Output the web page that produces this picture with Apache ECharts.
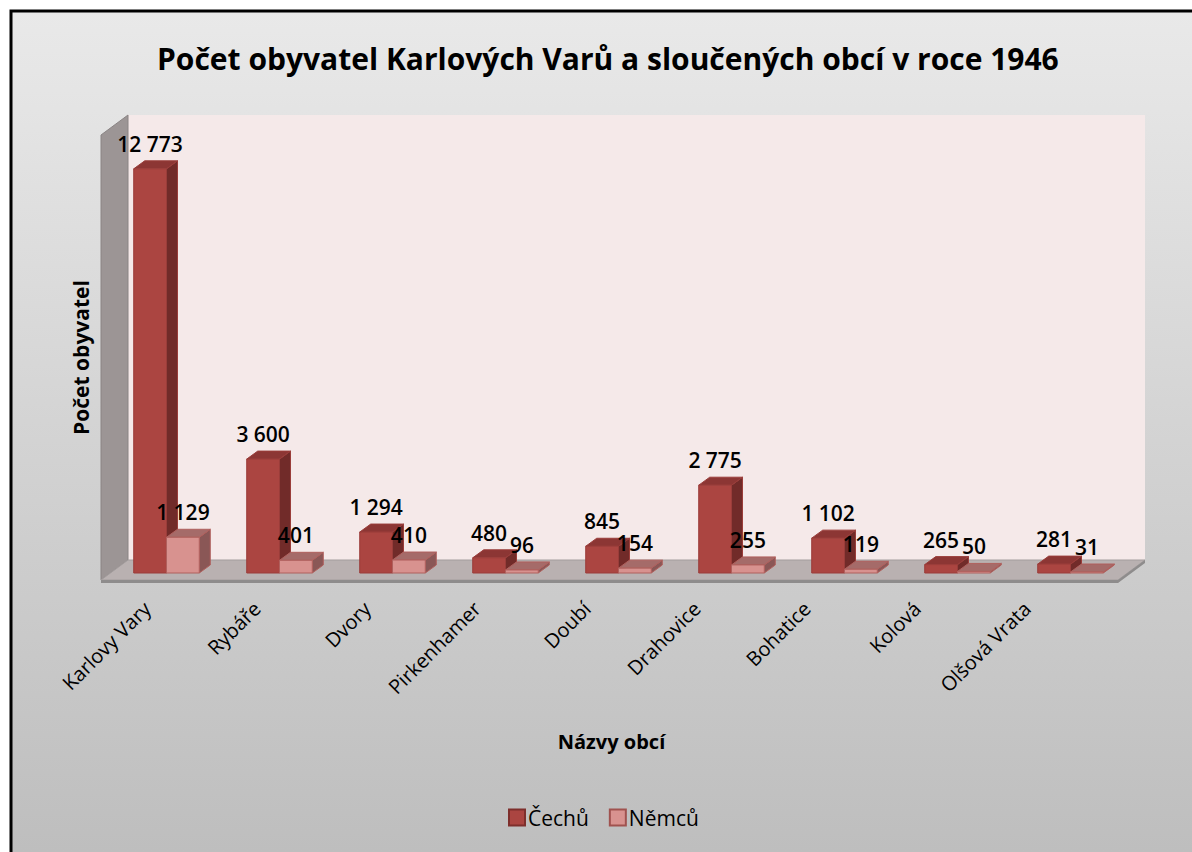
<!DOCTYPE html>
<html>
<head>
<meta charset="utf-8">
<script src="https://cdn.jsdelivr.net/npm/echarts@6/dist/echarts.min.js"></script>
<style>
  html, body { margin: 0; padding: 0; background: #fff; }
  #main { width: 1192px; height: 852px; }
</style>
</head>
<body>
<div id="main"></div>
<script>
// data
const obce = ['Karlovy Vary', 'Rybáře', 'Dvory', 'Pirkenhamer', 'Doubí', 'Drahovice', 'Bohatice', 'Kolová', 'Olšová Vrata'];
const cechu = [12773, 3600, 1294, 480, 845, 2775, 1102, 265, 281];
const nemcu = [1129, 401, 410, 96, 154, 255, 119, 50, 31];
const yMax = 14000;

const FONT = "'Open Sans', 'Noto Sans', sans-serif";
// hloubka 3D
const FRONT = [-9, 7], BACK = [18, -13], BAR_D = [11, -8];

function fmt(v) {
  return String(v).replace(/\B(?=(\d{3})+(?!\d))/g, ' ');
}

// kvádr pro jeden sloupec, side = -1 vlevo (Čechů), 1 vpravo (Němců)
function boxRenderer(side, colors) {
  return function (params, api) {
    const i = api.value(0);
    const v = api.value(1);
    const top = api.coord([i, v]);
    const base = api.coord([i, 0]);
    const bw = api.size([1, 0])[0] * 0.29;
    const x0 = side < 0 ? top[0] - bw : top[0];
    const x1 = x0 + bw;
    const yt = top[1], yb = base[1];
    const dx = BAR_D[0], dy = BAR_D[1];
    const line = { stroke: colors.edge, lineWidth: 1 };
    return {
      type: 'group',
      children: [
        { type: 'polygon', shape: { points: [[x1, yt], [x1 + dx, yt + dy], [x1 + dx, yb + dy], [x1, yb]] },
          style: Object.assign({ fill: colors.side }, line) },
        { type: 'polygon', shape: { points: [[x0, yt], [x0 + dx, yt + dy], [x1 + dx, yt + dy], [x1, yt]] },
          style: Object.assign({ fill: colors.top }, line) },
        { type: 'rect', shape: { x: x0, y: yt, width: bw, height: yb - yt },
          style: Object.assign({ fill: colors.front }, line) },
        { type: 'text', x: (x0 + x1) / 2, y: yt - 25, z2: 10,
          style: { text: fmt(v), fill: '#000', font: '600 21px ' + FONT, align: 'center', verticalAlign: 'middle' } }
      ]
    };
  };
}

function wallsRenderer(params, api) {
  const c = params.coordSys;
  const x = c.x, y = c.y, w = c.width, h = c.height;
  const yb = y + h;
  return {
    type: 'group',
    children: [
      { type: 'rect', shape: { x: x + BACK[0], y: y + BACK[1] - 2, width: w, height: h + 2 },
        style: { fill: '#f5e9e9' } },
      { type: 'polygon', shape: { points: [[x + FRONT[0], y + FRONT[1] - 2], [x + BACK[0], y + BACK[1] - 2], [x + BACK[0], yb + BACK[1]], [x + FRONT[0], yb + FRONT[1]]] },
        style: { fill: '#9c9595', stroke: '#8a8484', lineWidth: 1 } },
      { type: 'polygon', shape: { points: [[x + FRONT[0], yb + FRONT[1]], [x + BACK[0], yb + BACK[1]], [x + w + BACK[0], yb + BACK[1]], [x + w + FRONT[0], yb + FRONT[1]]] },
        style: { fill: '#b9b1b1', stroke: '#a39d9d', lineWidth: 1 } },
      { type: 'polygon', shape: { points: [[x + FRONT[0], yb + FRONT[1]], [x + w + FRONT[0], yb + FRONT[1]], [x + w + BACK[0], yb + BACK[1]], [x + w + BACK[0], yb + BACK[1] + 3], [x + w + FRONT[0], yb + FRONT[1] + 3], [x + FRONT[0], yb + FRONT[1] + 3]] },
        style: { fill: '#8e8c8c' } }
    ]
  };
}

const chart = echarts.init(document.getElementById('main'), null, { renderer: 'svg' });

chart.setOption({
  animation: false,
  graphic: [{
    type: 'rect', z: -10, silent: true,
    shape: { x: 11, y: 11, width: 1200, height: 860 },
    style: {
      fill: new echarts.graphic.LinearGradient(0, 0, 0, 1, [
        { offset: 0, color: '#e9e9e9' },
        { offset: 1, color: '#bdbdbd' }
      ]),
      stroke: '#000', lineWidth: 3
    }
  }],
  title: {
    text: 'Počet obyvatel Karlových Varů a sloučených obcí v roce 1946',
    left: 152, top: 38,
    textStyle: { fontFamily: FONT, fontWeight: 'bold', fontSize: 30, color: '#000' }
  },
  legend: {
    data: ['Čechů', 'Němců'],
    left: 503, top: 802,
    icon: 'rect', itemWidth: 16, itemHeight: 16, itemGap: 20,
    textStyle: { fontFamily: FONT, fontSize: 21, color: '#000', padding: [0, 0, 0, -2] }
  },
  grid: [
    { left: 110, right: 65, top: 130, bottom: 279 },
    { left: 92, width: 990, top: 130, bottom: 264 }
  ],
  xAxis: [
    {
      type: 'category', data: obce, gridIndex: 0,
      axisLine: { show: false }, axisTick: { show: false }, axisLabel: { show: false },
      name: 'Názvy obcí', nameLocation: 'middle', nameGap: 158,
      nameTextStyle: { fontFamily: FONT, fontWeight: 'bold', fontSize: 20, color: '#000', padding: [0, 14, 0, 0] }
    },
    {
      type: 'category', data: obce, gridIndex: 1,
      axisLine: { show: false }, axisTick: { show: false },
      axisLabel: { rotate: 45, margin: 17, interval: 0, fontFamily: FONT, fontSize: 20, color: '#000' }
    }
  ],
  yAxis: [
    {
      type: 'value', gridIndex: 0, min: 0, max: yMax,
      axisLine: { show: false }, axisTick: { show: false }, axisLabel: { show: false }, splitLine: { show: false },
      name: 'Počet obyvatel', nameLocation: 'middle', nameGap: 19, nameRotate: 90,
      nameTextStyle: { fontFamily: FONT, fontWeight: 'bold', fontSize: 21, color: '#000', padding: [0, 12, 0, 0] }
    },
    { type: 'value', gridIndex: 1, show: false, min: 0, max: yMax }
  ],
  series: [
    {
      type: 'custom', name: 'walls', silent: true, z: 1,
      xAxisIndex: 0, yAxisIndex: 0,
      renderItem: wallsRenderer,
      data: [[0, 0]]
    },
    {
      type: 'custom', name: 'Čechů', z: 2,
      xAxisIndex: 0, yAxisIndex: 0,
      itemStyle: { color: '#ab4541', borderColor: '#7e2f2c', borderWidth: 1 },
      renderItem: boxRenderer(-1, { front: '#ab4541', top: '#8c3634', side: '#712b29', edge: '#9a3d3a' }),
      data: cechu.map((v, i) => [i, v])
    },
    {
      type: 'custom', name: 'Němců', z: 3,
      xAxisIndex: 0, yAxisIndex: 0,
      itemStyle: { color: '#d8928f', borderColor: '#a0524f', borderWidth: 1 },
      renderItem: boxRenderer(1, { front: '#d8928f', top: '#a56b69', side: '#8a5756', edge: '#b0605d' }),
      data: nemcu.map((v, i) => [i, v])
    }
  ]
});
</script>
</body>
</html>
